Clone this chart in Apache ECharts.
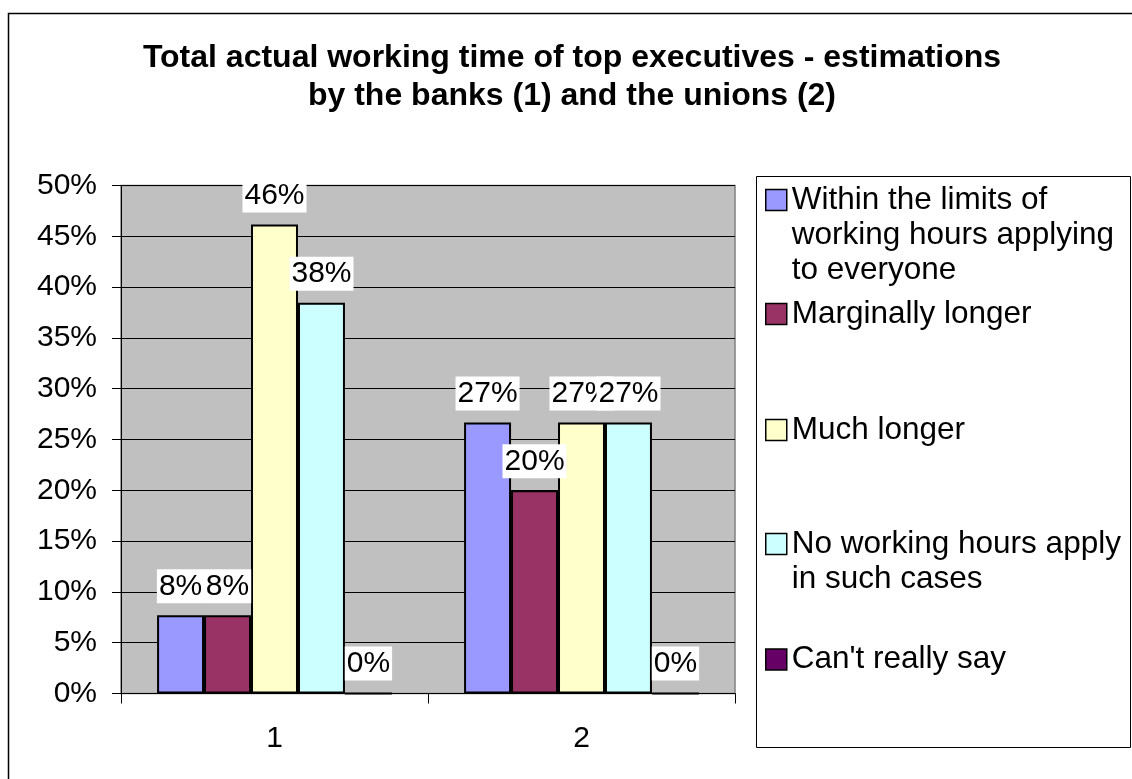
<!DOCTYPE html>
<html>
<head>
<meta charset="utf-8">
<title>Total actual working time of top executives</title>
<script src="https://cdn.jsdelivr.net/npm/echarts@6/dist/echarts.min.js"></script>
<style>
  html, body { margin: 0; padding: 0; background: #ffffff; }
  #chart { width: 1132px; height: 779px; }
</style>
</head>
<body>
<div id="chart"></div>
<script>
// Groups: 1 = banks, 2 = unions
const categories = ['1', '2'];

// Share of answers per group, in percent
const withinLimits     = [7.69, 26.67];
const marginallyLonger = [7.69, 20.0];
const muchLonger       = [46.15, 26.67];
const noWorkingHours   = [38.46, 26.67];
const cantReallySay    = [0, 0];

const seriesNames = [
  'Within the limits of working hours applying to everyone',
  'Marginally longer',
  'Much longer',
  'No working hours apply in such cases',
  "Can't really say"
];
const legendLines = [
  ['Within the limits of', 'working hours applying', 'to everyone'],
  ['Marginally longer'],
  ['Much longer'],
  ['No working hours apply', 'in such cases'],
  ["Can't really say"]
];

// Value axis ticks
const yMin = 0;
const yMax = 50;
const yStep = 5;

const titleLines = [
  'Total actual working time of top executives - estimations',
  'by the banks (1) and the unions (2)'
];

// ---- styling / layout ----
const FONT = '"Liberation Sans", Arial, Helvetica, sans-serif';
const colors = ['#9999FF', '#993366', '#FFFFCC', '#CCFFFF', '#660066'];
const seriesValues = [withinLimits, marginallyLonger, muchLonger, noWorkingHours, cantReallySay];

const LEGEND_LINE = 35;
const ICON = 21;
const legendIconCentres = [200, 314, 430, 544, 659.5];

const chart = echarts.init(document.getElementById('chart'), null, { renderer: 'canvas' });

// Multi-line entries: the swatch sits beside the first line, so the icon
// path is a square at the top of a taller (otherwise empty) box.
const legends = seriesNames.map((name, i) => {
  const n = legendLines[i].length;
  const boxH = ICON + LEGEND_LINE * (n - 1);
  const icon = n === 1
    ? 'rect'
    : 'path://M0,0h' + ICON + 'v' + ICON + 'h-' + ICON + 'zM0,' + boxH;
  return {
    data: [name],
    orient: 'vertical',
    left: 765,
    top: legendIconCentres[i] - ICON / 2 - (LEGEND_LINE - ICON) / 2,
    padding: 0,
    itemWidth: ICON,
    itemHeight: boxH,
    itemGap: 0,
    icon: icon,
    selectedMode: false,
    itemStyle: { borderColor: '#000000', borderWidth: 1.5 },
    formatter: () => legendLines[i].join('\n'),
    textStyle: {
      fontFamily: FONT,
      fontSize: 31.5,
      color: '#000000',
      lineHeight: LEGEND_LINE
    }
  };
});

const series = seriesNames.map((name, i) => ({
  name: name,
  type: 'bar',
  data: seriesValues[i],
  barGap: '0%',
  barCategoryGap: '23.5%',
  itemStyle: { color: colors[i], borderColor: '#000000', borderWidth: 2 },
  label: {
    show: true,
    position: 'top',
    distance: 12,
    formatter: p => Math.round(p.value) + '%',
    fontFamily: FONT,
    fontSize: 30,
    color: '#000000',
    backgroundColor: '#ffffff',
    lineHeight: 34,
    padding: [0, 2, 0, 2]
  },
  emphasis: { disabled: true }
}));

const option = {
  animation: false,
  backgroundColor: '#ffffff',
  title: {
    text: titleLines.join('\n'),
    left: 572,
    top: 39,
    padding: 0,
    textAlign: 'center',
    textVerticalAlign: 'top',
    textStyle: {
      fontFamily: FONT,
      fontSize: 32,
      fontWeight: 'bold',
      color: '#000000',
      lineHeight: 38
    }
  },
  graphic: [
    {
      type: 'rect',
      z: -10,
      shape: { x: 8.5, y: 13.5, width: 1200, height: 900 },
      style: { fill: '#ffffff', stroke: '#000000', lineWidth: 1.5 },
      silent: true
    },
    {
      type: 'rect',
      z: -5,
      shape: { x: 756.5, y: 176.5, width: 374, height: 571 },
      style: { fill: '#ffffff', stroke: '#000000', lineWidth: 1 },
      silent: true
    }
  ],
  legend: legends,
  grid: {
    left: 121,
    top: 185.5,
    right: 397,
    bottom: 85.5,
    show: true,
    backgroundColor: '#C0C0C0',
    borderColor: '#808080',
    borderWidth: 1.5,
    containLabel: false,
    outerBoundsMode: 'none'
  },
  xAxis: {
    type: 'category',
    data: categories,
    axisLine: { show: true, lineStyle: { color: '#000000', width: 1 } },
    axisTick: { show: true, alignWithLabel: false, length: 10, lineStyle: { color: '#000000', width: 1 } },
    axisLabel: { fontFamily: FONT, fontSize: 30, color: '#000000', margin: 30 },
    splitLine: { show: false }
  },
  yAxis: {
    type: 'value',
    min: yMin,
    max: yMax,
    interval: yStep,
    axisLine: { show: true, lineStyle: { color: '#000000', width: 1 } },
    axisTick: { show: true, length: 9, lineStyle: { color: '#000000', width: 1 } },
    axisLabel: {
      fontFamily: FONT,
      fontSize: 30,
      color: '#000000',
      margin: 24,
      formatter: v => v + '%'
    },
    splitLine: { show: true, lineStyle: { color: '#000000', width: 1 } }
  },
  series: series
};

chart.setOption(option);
</script>
</body>
</html>
